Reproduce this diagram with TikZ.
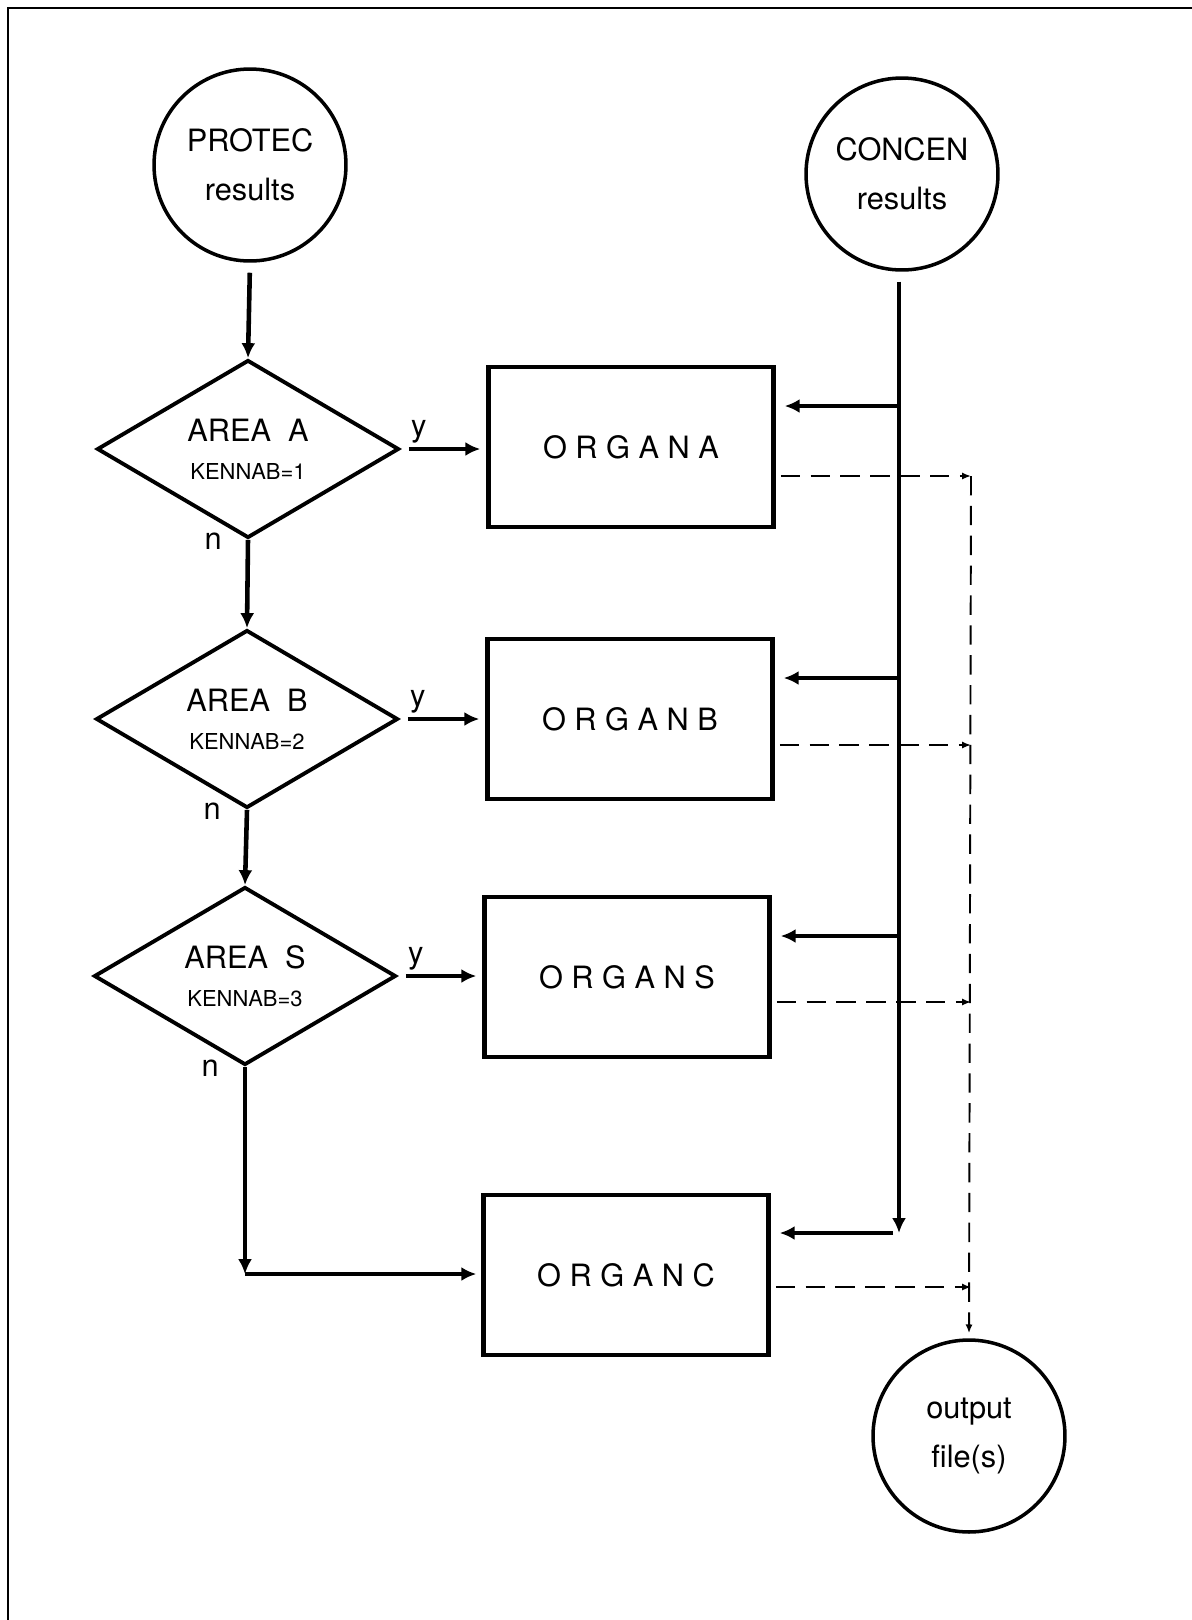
\documentclass[tikz,border=0pt]{standalone}
\usepackage{fontspec}
\setmainfont{TeX Gyre Heros}
\usetikzlibrary{shapes.geometric}
\usetikzlibrary{calc}
\usetikzlibrary{arrows.meta}

\newcommand{\keyfont}{\fontsize{12.5}{14}\selectfont}

\tikzset{
  bubble/.style={circle, draw, line width=2pt, minimum size=3.84cm,
    inner sep=0pt, align=center, font=\fontsize{17.5}{28}\selectfont},
  test/.style={diamond, draw, line width=2.2pt, aspect=1.7,
    minimum width=6.04cm, minimum height=3.56cm, inner sep=0pt,
    align=center, font=\fontsize{17.5}{21.5}\selectfont},
  organ/.style={draw, line width=2.6pt, minimum width=5.7cm,
    minimum height=3.2cm, font=\fontsize{17.5}{21}\selectfont},
  flow/.style={line width=2.6pt, -{Latex[length=8.5pt, width=8pt]}},
  store/.style={line width=1.1pt, dash pattern=on 11pt off 6pt,
    -{Latex[length=5pt, width=4pt]}},
  tag/.style={font=\fontsize{17.5}{21}\selectfont, inner sep=0pt},
}

\begin{document}
\begin{tikzpicture}[x=0.02cm, y=-0.02cm]
  \useasboundingbox (0,0) rectangle (1192,1620);
  \draw[line width=1.4pt] (8,1620) -- (8,8) -- (1192,8);

  % sources and sink
  \node[bubble] (protec) at (250,165) {PROTEC\\results};
  \node[bubble] (concen) at (902,174) {CONCEN\\results};
  \node[bubble] (out) at (969,1436) {output\\file(s)};

  % decisions
  \node[test] (areaA) at (248,449) {AREA\ \ A\\{\keyfont KENNAB=1}};
  \node[test] (areaB) at (247,719) {AREA\ \ B\\{\keyfont KENNAB=2}};
  \node[test] (areaS) at (245,976) {AREA\ \ S\\{\keyfont KENNAB=3}};

  % organ routines
  \node[organ] (organA) at (631,447) {O R G A N A};
  \node[organ] (organB) at (630,719) {O R G A N B};
  \node[organ] (organS) at (627,977) {O R G A N S};
  \node[organ] (organC) at (626,1275) {O R G A N C};

  % left chain
  \draw[flow, shorten <=0.2cm] (protec.south) -- (areaA.north);
  \draw[flow] (areaA.south) -- (areaB.north);
  \draw[flow] (areaB.south) -- (areaS.north);
  \coordinate (bend) at (245,1274);
  \draw[flow] (areaS.south) -- (bend);
  \draw[flow, shorten >=0.1cm] (bend) -- (bend -| organC.west);

  \foreach \a in {A, B, S}{
    \draw[flow, shorten <=0.16cm, shorten >=0.12cm] (area\a.east) --
      (area\a.east -| organ\a.west)
      node[tag, pos=0, anchor=base west, xshift=0.16cm, yshift=0.26cm] (y\a) {y};
    \node[tag, anchor=base east] (n\a) at ($(area\a.south)+(-26,10)$) {n};
  }

  % CONCEN feed
  \coordinate (feed) at (899,1233);
  \draw[flow, shorten <=0.2cm] (feed |- concen.south) -- (feed);
  \coordinate (tapA) at (899,406);
  \coordinate (tapB) at (899,678);
  \coordinate (tapS) at (899,936);
  \foreach \a in {A, B, S}{
    \draw[flow, shorten >=0.18cm] (tap\a) -- (tap\a -| organ\a.east);
  }
  \draw[flow, shorten <=0.12cm, shorten >=0.18cm] (feed) -- (feed -| organC.east);

  % output collection
  \coordinate (dropA) at (971,476);
  \coordinate (dropB) at (971,745);
  \coordinate (dropS) at (971,1002);
  \coordinate (dropC) at (971,1287);
  \foreach \a in {A, B, S, C}{
    \draw[store, shorten <=0.1cm] (drop\a -| organ\a.east) -- (drop\a);
  }
  \draw[store, shorten >=0.1cm] (dropA) -- (out.north);
\end{tikzpicture}
\end{document}
